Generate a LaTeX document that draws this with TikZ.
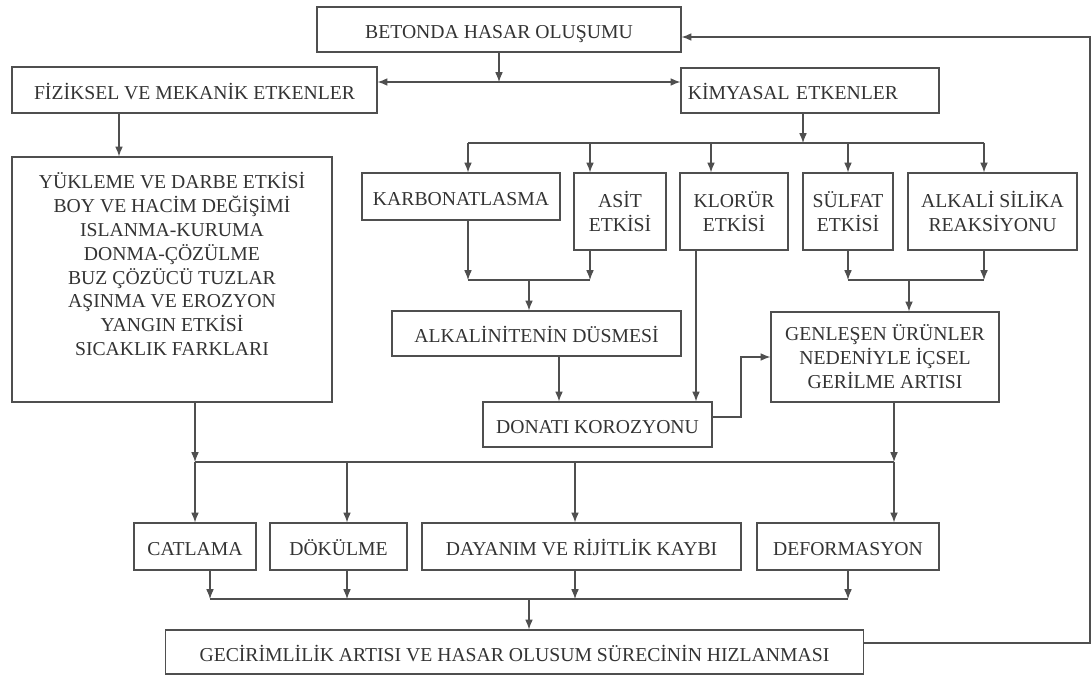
\documentclass[tikz,border=0pt]{standalone}
\usepackage{fontspec}
\setmainfont{Liberation Serif}
\usepackage{xcolor}
\usetikzlibrary{arrows.meta}
\definecolor{linegray}{HTML}{4F4F4F}
\definecolor{textgray}{HTML}{333333}
\tikzset{
    flow_node/.style = {draw=linegray, line width=0.8pt, inner sep=0pt, align=center, text=textgray,
                        font=\fontsize{14}{17}\selectfont},
    one_line/.style = {flow_node, minimum height=1.125cm, text height=13pt, text depth=0pt},
    two_line/.style = {flow_node, minimum height=1.925cm},
    bottom_row/.style = {one_line, minimum height=1.175cm}
}

\begin{document}
\begin{tikzpicture}[x=0.025cm, y=-0.025cm, >={Latex[length=7pt,width=5.5pt]}, linegray, line width=0.8pt]
    \fill[white] (0,0) rectangle (1091,675);
    \useasboundingbox (0,0) rectangle (1091,675);

    % top level
    \node [one_line, minimum width=9.1cm] (betonda) at (499,29.5) {BETONDA HASAR OLUŞUMU};
    \node [one_line, minimum width=9.125cm, minimum height=1.15cm] (fiziksel) at (194.5,90) {FİZİKSEL VE MEKANİK ETKENLER};
    \node [one_line, text width=6.1cm, align=left, inner xsep=0.175cm] (kimyasal) at (810,90.5) {\mbox{KİMYASAL ETKENLER}};

    % physical branch
    \node [flow_node, minimum width=8cm, minimum height=6.125cm] (yukleme) at (172,279.5)
        {YÜKLEME VE DARBE ETKİSİ\\BOY VE HACİM DEĞİŞİMİ\\ISLANMA-KURUMA\\DONMA-ÇÖZÜLME\\
         BUZ ÇÖZÜCÜ TUZLAR\\AŞINMA VE EROZYON\\YANGIN ETKİSİ\\SICAKLIK FARKLARI\\ \strut};

    % chemical branch
    \node [bottom_row, minimum width=4.95cm] (karbon) at (461,196.5) {KARBONATLASMA};
    \node [two_line, minimum width=2.3cm] (asit) at (620,211.5) {ASİT\\ETKİSİ};
    \node [two_line, minimum width=2.7cm] (klorur) at (734,211.5) {KLORÜR\\ETKİSİ};
    \node [two_line, minimum width=2.25cm] (sulfat) at (848,211.5) {SÜLFAT\\ETKİSİ};
    \node [two_line, minimum width=4.225cm] (alkali) at (992.5,211.5) {ALKALİ SİLİKA\\REAKSİYONU};
    \node [one_line, minimum width=7.225cm] (alkalin) at (536.5,333.5) {ALKALİNİTENİN DÜSMESİ};
    \node [one_line, minimum width=5.725cm] (donati) at (597.5,424.5) {DONATI KOROZYONU};
    \node [flow_node, minimum width=5.7cm, minimum height=2.25cm] (genlesen) at (885,357)
        {GENLEŞEN ÜRÜNLER\\NEDENİYLE İÇSEL\\GERİLME ARTISI};

    % results
    \node [bottom_row, minimum width=3.05cm] (catlama) at (195,546.5) {CATLAMA};
    \node [bottom_row, minimum width=3.425cm] (dokulme) at (338.5,546.5) {DÖKÜLME};
    \node [bottom_row, minimum width=7.975cm] (dayanim) at (581.5,546.5) {DAYANIM VE RİJİTLİK KAYBI};
    \node [bottom_row, minimum width=4.55cm] (deform) at (848,546.5) {DEFORMASYON};
    \node [one_line, minimum width=17.425cm, minimum height=1.1cm] (gecir) at (514.5,652)
        {GECİRİMLİLİK ARTISI VE HASAR OLUSUM SÜRECİNİN HIZLANMASI};

    % junctions
    \coordinate (split_top) at (499,82);
    \coordinate (split_chem) at (803,143);

    \draw[->] (betonda) -- (split_top);
    \draw[<->] (fiziksel.east |- split_top) -- (kimyasal.west |- split_top);
    \draw[->] (fiziksel.south -| 119,0) -- (yukleme.north -| 119,0);

    \draw[->] (kimyasal.south -| split_chem) -- (split_chem);
    \draw (468,143) -- (984,143);
    \foreach \n/\x in {karbon/468, asit/590, klorur/711, sulfat/848, alkali/984}
        \draw[->] (\x,143) -- (\n.north -| \x,0);

    \draw[->] (karbon.south -| 468,0) -- (468,280);
    \draw[->] (asit.south -| 590,0) -- (590,280);
    \draw (468,280) -- (590,280);
    \draw[->] (529,280) -- (alkalin.north -| 529,0);
    \draw[->] (alkalin.south -| 559,0) -- (donati.north -| 559,0);
    \draw[->] (klorur.south -| 696,0) -- (donati.north -| 696,0);
    \draw[->] (donati.east |- 0,417) -- (741,417) |- (genlesen.west);

    \draw[->] (sulfat.south) -- (848,280);
    \draw[->] (alkali.south -| 984,0) -- (984,280);
    \draw (848,280) -- (984,280);
    \draw[->] (909,280) -- (genlesen.north -| 909,0);

    \draw[->] (yukleme.south -| 195,0) -- (195,462);
    \draw[->] (genlesen.south -| 894,0) -- (894,462);
    \draw (195,462) -- (894,462);
    \foreach \n/\x in {catlama/195, dokulme/347, dayanim/575, deform/894}
        \draw[->] (\x,462) -- (\n.north -| \x,0);

    \foreach \n/\x in {catlama/210, dokulme/347, dayanim/575, deform/848}
        \draw[->] (\n.south -| \x,0) -- (\x,599);
    \draw (210,599) -- (848,599);
    \draw[->] (529,599) -- (gecir.north -| 529,0);

    % feedback loop
    \draw[->] (gecir.east |- 0,643) -- (1090,643) |- (betonda.east |- 0,37);
\end{tikzpicture}
\end{document}
